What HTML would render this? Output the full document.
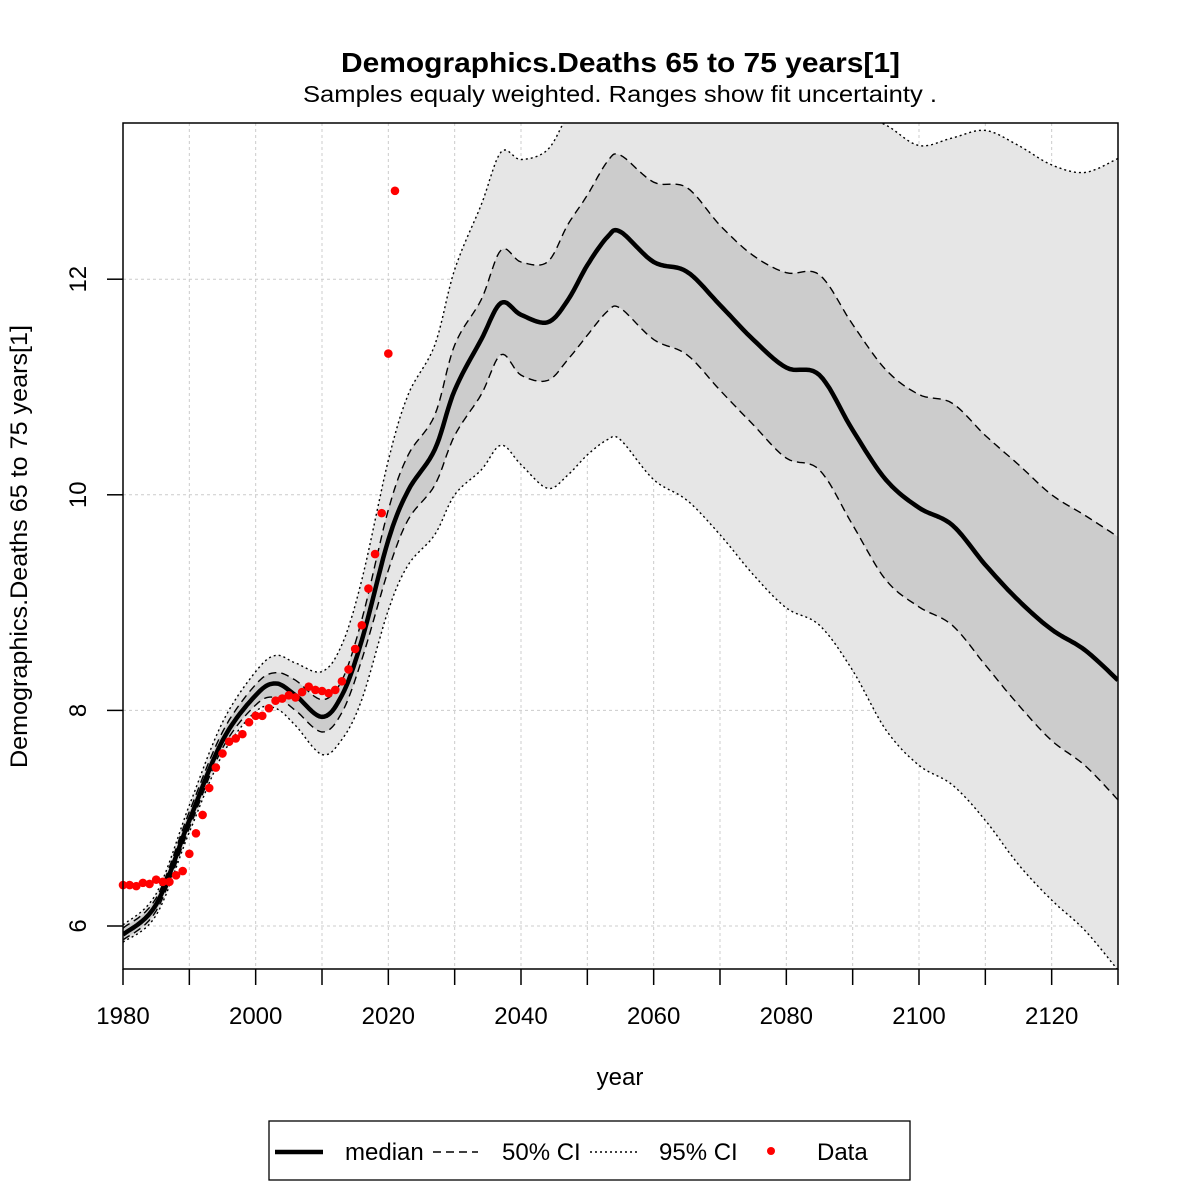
<!DOCTYPE html>
<html><head><meta charset="utf-8"><style>
html,body{margin:0;padding:0;background:#fff;}
svg{display:block;font-family:"Liberation Sans",sans-serif;}
</style></head><body>
<svg id="chart" width="1181" height="1181" viewBox="0 0 1181 1181">
<text x="341" y="72" textLength="559" lengthAdjust="spacingAndGlyphs" font-size="28" font-weight="bold">Demographics.Deaths 65 to 75 years[1]</text>
<text x="303" y="102" textLength="634" lengthAdjust="spacingAndGlyphs" font-size="23">Samples equaly weighted. Ranges show  fit uncertainty .</text>
<defs><clipPath id="plotclip"><rect x="123" y="123" width="995" height="846"/></clipPath></defs>
<g id="grid"></g>
<g id="bands" clip-path="url(#plotclip)"></g>
<g id="lines" clip-path="url(#plotclip)"></g>
<g id="points"></g>
<rect x="123" y="123" width="995" height="846" fill="none" stroke="#000" stroke-width="1.5"/>
<g id="axes"></g>
<text x="620" y="1085" text-anchor="middle" font-size="24">year</text>
<text transform="translate(27,768) rotate(-90)" textLength="443" lengthAdjust="spacingAndGlyphs" font-size="24">Demographics.Deaths 65 to 75 years[1]</text>
<g>
<rect x="269" y="1121" width="641" height="59" fill="#fff" stroke="#000" stroke-width="1.3"/>
<line x1="275" y1="1152" x2="323" y2="1152" stroke="#000" stroke-width="4.5"/>
<text x="345" y="1160" font-size="24">median</text>
<line x1="433" y1="1152" x2="478" y2="1152" stroke="#000" stroke-width="1.5" stroke-dasharray="8,5"/>
<text x="502" y="1160" font-size="24">50% CI</text>
<line x1="590" y1="1152" x2="637" y2="1152" stroke="#000" stroke-width="1.5" stroke-dasharray="2,3"/>
<text x="659" y="1160" font-size="24">95% CI</text>
<circle cx="771" cy="1151" r="4" fill="#f00"/>
<text x="817" y="1160" font-size="24">Data</text>
</g>
</svg>
<script>
const years = [1980,1985,1990,1995,2000,2003,2006,2010,2013,2016,2020,2023,2027,2030,2034,2037,2040,2044,2047,2050,2053,2055,2060,2065,2070,2075,2080,2085,2090,2095,2100,2105,2110,2115,2120,2125,2130];
const median = [5.92,6.2,6.98,7.72,8.14,8.25,8.14,7.94,8.14,8.65,9.58,10.04,10.42,10.97,11.44,11.78,11.67,11.6,11.8,12.13,12.39,12.44,12.16,12.07,11.76,11.44,11.18,11.11,10.6,10.14,9.88,9.72,9.35,9.02,8.75,8.56,8.28];
const ci50Upper = [5.98,6.26,7.06,7.8,8.24,8.35,8.28,8.1,8.28,8.84,9.86,10.37,10.74,11.39,11.81,12.27,12.16,12.16,12.5,12.78,13.09,13.15,12.9,12.85,12.5,12.22,12.06,12.04,11.58,11.16,10.93,10.85,10.55,10.28,10.0,9.81,9.61];
const ci50Lower = [5.87,6.14,6.91,7.65,8.05,8.12,8.0,7.8,7.98,8.47,9.3,9.77,10.09,10.55,10.93,11.3,11.11,11.06,11.25,11.48,11.7,11.73,11.44,11.3,10.97,10.65,10.34,10.23,9.72,9.21,8.96,8.79,8.42,8.05,7.72,7.49,7.17];
const ci95Upper = [6.01,6.3,7.12,7.89,8.36,8.51,8.44,8.36,8.61,9.21,10.32,10.93,11.39,12.09,12.69,13.18,13.11,13.2,13.52,13.8,14.0,14.08,13.94,13.9,13.76,13.72,13.68,13.64,13.55,13.43,13.24,13.31,13.38,13.24,13.06,12.99,13.12];
const ci95Lower = [5.85,6.1,6.87,7.59,7.99,8.02,7.86,7.59,7.73,8.1,8.93,9.35,9.63,10.0,10.23,10.46,10.28,10.06,10.18,10.37,10.51,10.51,10.14,9.95,9.63,9.26,8.95,8.79,8.37,7.82,7.49,7.31,6.98,6.57,6.24,5.96,5.59];
const dataYears = [1980,1981,1982,1983,1984,1985,1986,1987,1988,1989,1990,1991,1992,1993,1994,1995,1996,1997,1998,1999,2000,2001,2002,2003,2004,2005,2006,2007,2008,2009,2010,2011,2012,2013,2014,2015,2016,2017,2018,2019,2020,2021];
const dataValues = [6.38,6.38,6.37,6.4,6.39,6.43,6.41,6.41,6.47,6.51,6.67,6.86,7.03,7.28,7.47,7.6,7.71,7.74,7.78,7.89,7.95,7.95,8.02,8.09,8.11,8.14,8.12,8.17,8.22,8.19,8.18,8.16,8.19,8.27,8.38,8.57,8.79,9.13,9.45,9.83,11.31,12.82];
const xTicks = [1980,1990,2000,2010,2020,2030,2040,2050,2060,2070,2080,2090,2100,2110,2120,2130];
const xLabels = [1980,2000,2020,2040,2060,2080,2100,2120];
const yTicks = [6,8,10,12];

const NS = "http://www.w3.org/2000/svg";
const X = v => 123 + (v - 1980) * (995 / 150);
const Y = v => 926 - (v - 6) * 107.8;
function mk(parent, tag, attrs) {
  const e = document.createElementNS(NS, tag);
  for (const k in attrs) e.setAttribute(k, attrs[k]);
  document.getElementById(parent).appendChild(e);
  return e;
}
function smoothPts(xs, ys) {
  const p = xs.map((x, i) => [X(x), Y(ys[i])]);
  const out = [];
  for (let i = 0; i < p.length - 1; i++) {
    const p0 = p[Math.max(0, i - 1)], p1 = p[i], p2 = p[i + 1], p3 = p[Math.min(p.length - 1, i + 2)];
    for (let s = 0; s < 10; s++) {
      const t = s / 10, t2 = t * t, t3 = t2 * t;
      const f = (a, b, c, d) => 0.5 * (2 * b + (-a + c) * t + (2 * a - 5 * b + 4 * c - d) * t2 + (-a + 3 * b - 3 * c + d) * t3);
      out.push([f(p0[0], p1[0], p2[0], p3[0]), f(p0[1], p1[1], p2[1], p3[1])]);
    }
  }
  out.push(p[p.length - 1]);
  return out;
}
const toD = pts => pts.map((q, i) => (i ? "L" : "M") + q[0].toFixed(1) + "," + q[1].toFixed(1)).join("");

xTicks.forEach(t => {
  const l = mk("grid", "line", {x1: X(t), x2: X(t), y1: 123, y2: 969, stroke: "#ccc", "stroke-dasharray": "3,3"});
  
  
});
yTicks.forEach(t => {
  const l = mk("grid", "line", {x1: 123, x2: 1118, y1: Y(t), y2: Y(t), stroke: "#ccc", "stroke-dasharray": "3,3"});
  
  
});

const u95 = smoothPts(years, ci95Upper), l95 = smoothPts(years, ci95Lower);
const u50 = smoothPts(years, ci50Upper), l50 = smoothPts(years, ci50Lower);
const b95 = mk("bands", "path", {d: toD(u95.concat(l95.slice().reverse())) + "Z", fill: "#e6e6e6"});


const b50 = mk("bands", "path", {d: toD(u50.concat(l50.slice().reverse())) + "Z", fill: "#cccccc"});



[[u95, "2,3", "ci95-upper-line"], [l95, "2,3", "ci95-lower-line"], [u50, "8,5", "ci50-upper-line"], [l50, "8,5", "ci50-lower-line"]].forEach(a => {
  const l = mk("lines", "path", {d: toD(a[0]), fill: "none", stroke: "#000", "stroke-width": 1.4, "stroke-dasharray": a[1]});
  
  
});
const med = mk("lines", "path", {d: toD(smoothPts(years, median)), fill: "none", stroke: "#000", "stroke-width": 4.5, "stroke-linejoin": "round"});



dataYears.forEach((yr, i) => {
  const c = mk("points", "circle", {cx: X(yr), cy: Y(dataValues[i]), r: 4.3, fill: "#f00"});
  
  
});

xTicks.forEach(t => {
  const l = mk("axes", "line", {x1: X(t), x2: X(t), y1: 969, y2: 985, stroke: "#000", "stroke-width": 1.5});
  
  
});
xLabels.forEach(t => {
  const e = mk("axes", "text", {x: X(t), y: 1024, "text-anchor": "middle", "font-size": 24});
  e.textContent = t;
  
  
});
yTicks.forEach(t => {
  const l = mk("axes", "line", {x1: 107, x2: 123, y1: Y(t), y2: Y(t), stroke: "#000", "stroke-width": 1.5});
  
  
  const e = mk("axes", "text", {transform: "translate(86," + Y(t) + ") rotate(-90)", "text-anchor": "middle", "font-size": 24});
  e.textContent = t;
  
  
});
</script>
</body></html>
